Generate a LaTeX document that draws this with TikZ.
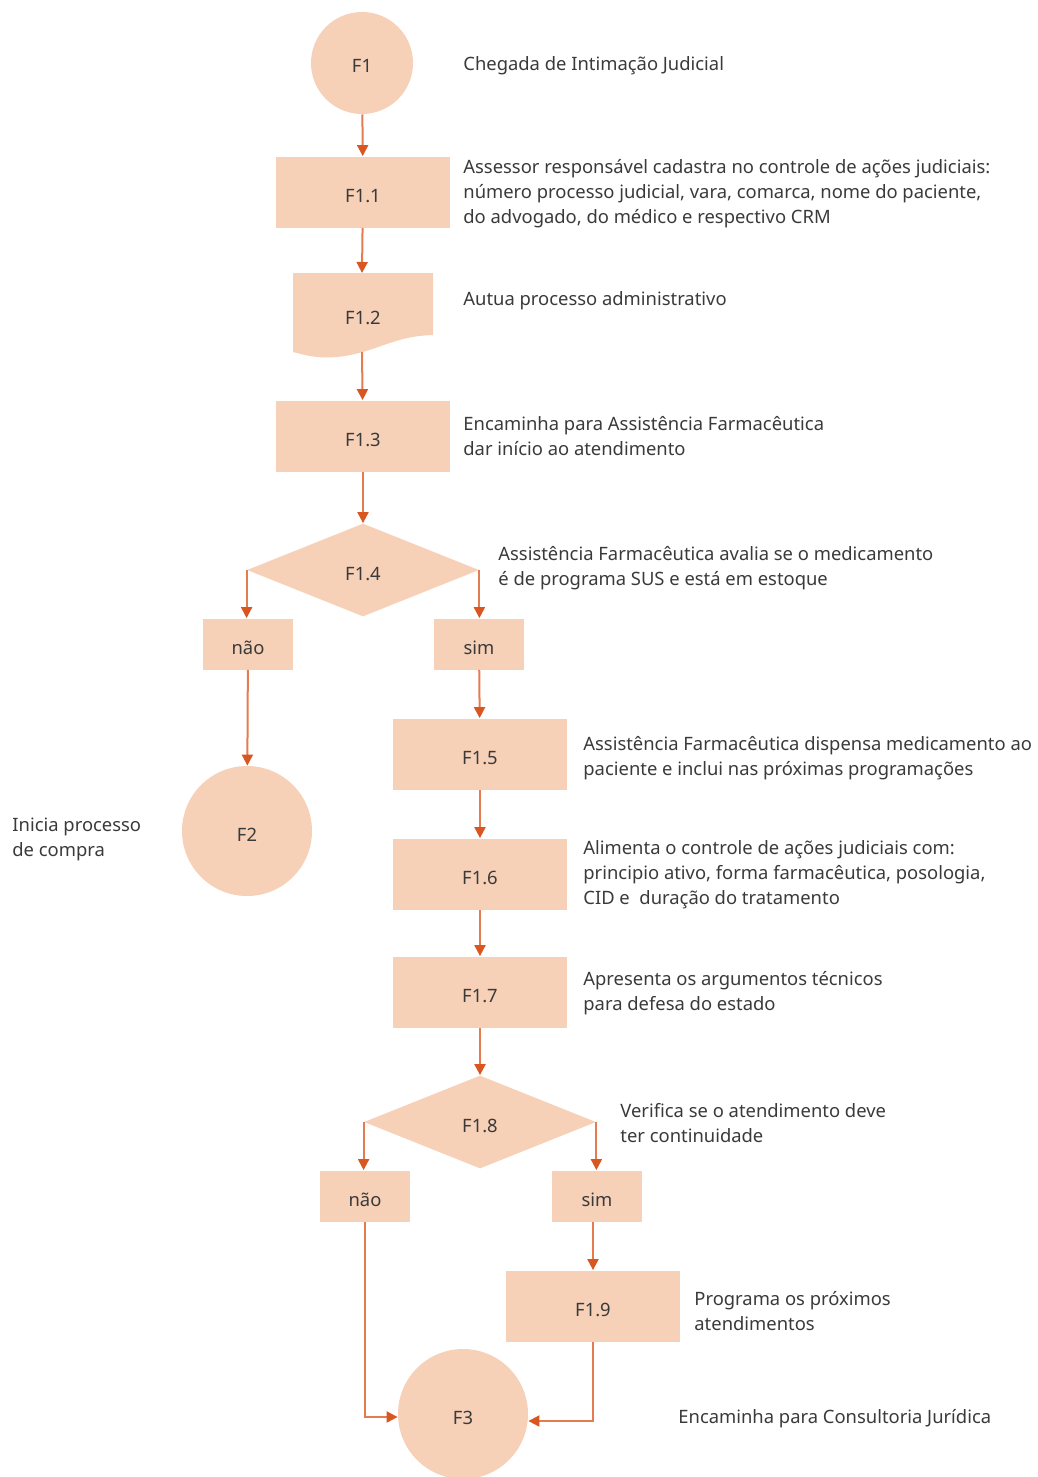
\documentclass[tikz,border=0pt]{standalone}
\usepackage{fontspec}
\setmainfont{Noto Sans}
\usetikzlibrary{calc}
\usetikzlibrary{arrows.meta}
\usetikzlibrary{shapes.geometric}
\definecolor{peach}{HTML}{F6D0B7}
\definecolor{linecol}{HTML}{E57B4E}
\definecolor{tipcol}{HTML}{DA5620}
\definecolor{txtcol}{HTML}{3A3A3A}

\begin{document}
\begin{tikzpicture}[x=0.5pt,y=-0.5pt,
  every node/.style={font=\fontsize{9.2}{12.5}\selectfont,text=txtcol},
  shape label/.style={text height=10pt,text depth=0pt},
  proc/.style={rectangle,fill=peach,minimum width=87pt,minimum height=35.5pt,inner sep=0pt,shape label},
  term/.style={circle,fill=peach,inner sep=0pt,shape label},
  decis/.style={diamond,fill=peach,minimum width=116pt,minimum height=46.5pt,inner sep=0pt,shape label},
  answ/.style={rectangle,fill=peach,minimum width=45pt,minimum height=25.5pt,inner sep=0pt,shape label},
  note/.style={anchor=west,align=left,inner sep=0pt},
  flow/.style={draw=linecol,line width=1pt,-{Triangle[length=5.5pt,width=5.5pt,color=tipcol]}},
  plain/.style={draw=linecol,line width=1pt}]

\useasboundingbox (0,0) rectangle (1038,1477);

\node[term,minimum size=51pt] (f1) at (362,63) {F1};
\node[proc] (f11) at (363,192) {F1.1};
\fill[peach] (293,273) -- (433,273) -- (433,335)
  .. controls (395,336) and (380,350) .. (345,356)
  .. controls (320,360) and (305,355) .. (293,352) -- cycle;
\node[shape label] (f12) at (363,314) {F1.2};
\coordinate (f12top) at (362,273);
\coordinate (f12bot) at (362,352);
\node[proc] (f13) at (363,436) {F1.3};
\node[decis] (f14) at (363,570) {F1.4};
\node[answ] (nao1) at (248,644) {não};
\node[answ] (sim1) at (479,644) {sim};
\node[term,minimum size=65pt] (f2) at (247,831) {F2};
\node[proc] (f15) at (480,754) {F1.5};
\node[proc] (f16) at (480,874) {F1.6};
\node[proc] (f17) at (480,992) {F1.7};
\node[decis] (f18) at (480,1122) {F1.8};
\node[answ] (nao2) at (365,1196) {não};
\node[answ] (sim2) at (597,1196) {sim};
\node[proc] (f19) at (593,1306) {F1.9};
\node[term,minimum size=65pt] (f3) at (463,1414) {F3};

\node[note] (t1) at (463,66) {Chegada de Intimação Judicial};
\node[note] (t11) at (463,194) {Assessor responsável cadastra no controle de ações judiciais:\\número processo judicial, vara, comarca, nome do paciente,\\do advogado, do médico e respectivo CRM};
\node[note] (t12) at (463,301) {Autua processo administrativo};
\node[note] (t13) at (463,436) {Encaminha para Assistência Farmacêutica\\dar início ao atendimento};
\node[note] (t14) at (498,568) {Assistência Farmacêutica avalia se o medicamento\\é de programa SUS e está em estoque};
\node[note] (t2) at (12,839) {Inicia processo\\de compra};
\node[note] (t15) at (583,758) {Assistência Farmacêutica dispensa medicamento ao\\paciente e inclui nas próximas programações};
\node[note] (t16) at (583,875) {Alimenta o controle de ações judiciais com:\\principio ativo, forma farmacêutica, posologia,\\CID e\ \ duração do tratamento};
\node[note] (t17) at (583,993) {Apresenta os argumentos técnicos\\para defesa do estado};
\node[note] (t18) at (620,1123) {Verifica se o atendimento deve\\ter continuidade};
\node[note] (t19) at (694,1311) {Programa os próximos\\atendimentos};
\node[note] (t3) at (678,1419) {Encaminha para Consultoria Jurídica};

\draw[flow] (f1) -- (f11);
\draw[flow] (f11) -- (f12top);
\draw[flow] (f12bot) -- (f13);
\draw[flow] (f13) -- (f14);
\draw[flow] (f14.west) -- (f14.west |- nao1.north);
\draw[flow] (f14.east) -- (f14.east |- sim1.north);
\draw[flow] (nao1) -- (f2);
\draw[flow] (sim1) -- (f15);
\draw[flow] (f15) -- (f16);
\draw[flow] (f16) -- (f17);
\draw[flow] (f17) -- (f18);
\draw[flow] (f18.west) -- (f18.west |- nao2.north);
\draw[flow] (f18.east) -- (f18.east |- sim2.north);
\draw[flow] (sim2.south -| f19) -- (f19);
\draw[flow] (nao2) |- ($(f3.west)+(0,3)$);
\draw[flow] (f19) |- ($(f3.east)+(0,7)$);

\end{tikzpicture}
\end{document}
